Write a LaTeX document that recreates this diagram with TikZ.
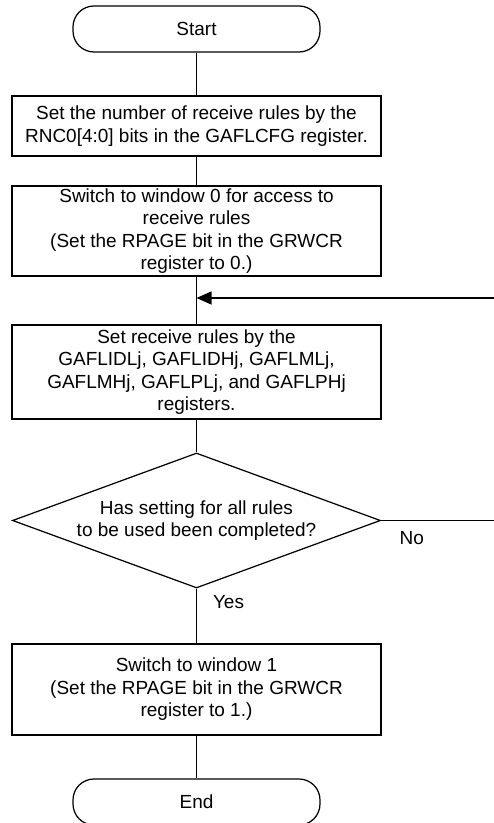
\documentclass[tikz,border=0pt]{standalone}
\usepackage{fontspec}
\setsansfont{Liberation Sans}
\usetikzlibrary{arrows.meta,shapes.geometric}

\begin{document}
\begin{tikzpicture}[font=\sffamily\fontsize{10.8}{12.8}\selectfont,>={Triangle[length=0.3cm,width=0.26cm]},line width=0.7pt,
 term/.style={draw,rounded corners=0.42cm,minimum width=4.94cm,minimum height=0.92cm},
 proc/.style={draw,minimum width=7.38cm,align=center,inner sep=0pt},
 dec/.style={draw,diamond,aspect=2.73,minimum width=7.36cm,minimum height=2.7cm,inner sep=0pt,align=center}]
\useasboundingbox (0,0) rectangle (9.88,16.46);
\node[term] (start) at (3.93,15.88) {Start};
\node[proc,minimum height=1.2cm] (setnum) at (3.93,13.94) {Set the number of receive rules by the\\RNC0[4:0] bits in the GAFLCFG register.};
\node[proc,minimum height=1.8cm] (win0) at (3.93,11.84) {Switch to window 0 for access to\\receive rules\\(Set the RPAGE bit in the GRWCR\\register to 0.)};
\node[proc,minimum height=1.88cm] (rules) at (3.93,9.02) {Set receive rules by the\\GAFLIDLj, GAFLIDHj, GAFLMLj,\\GAFLMHj, GAFLPLj, and GAFLPHj\\registers.};
\node[dec] (check) at (3.93,6.05) {Has setting for all rules\\to be used been completed?};
\node[proc,minimum height=1.82cm] (win1) at (3.93,2.67) {Switch to window 1\\(Set the RPAGE bit in the GRWCR\\register to 1.)};
\node[term] (stop) at (3.93,0.42) {End};
\foreach \a/\b in {start/setnum,setnum/win0,win0/rules,rules/check,win1/stop}{\draw (\a)--(\b);}
\draw (check) -- node[pos=.25,xshift=0.64cm] {Yes} (win1);
% loop back (right part cut off)
\coordinate (noend) at (9.9,6.05);
\coordinate (loopin) at (9.9,10.5);
\coordinate (join) at (3.93,10.5);
\draw (check.east) -- node[pos=.27,yshift=-0.36cm] {No} (noend);
\draw[->] (loopin) -- (join);
\end{tikzpicture}
\end{document}
